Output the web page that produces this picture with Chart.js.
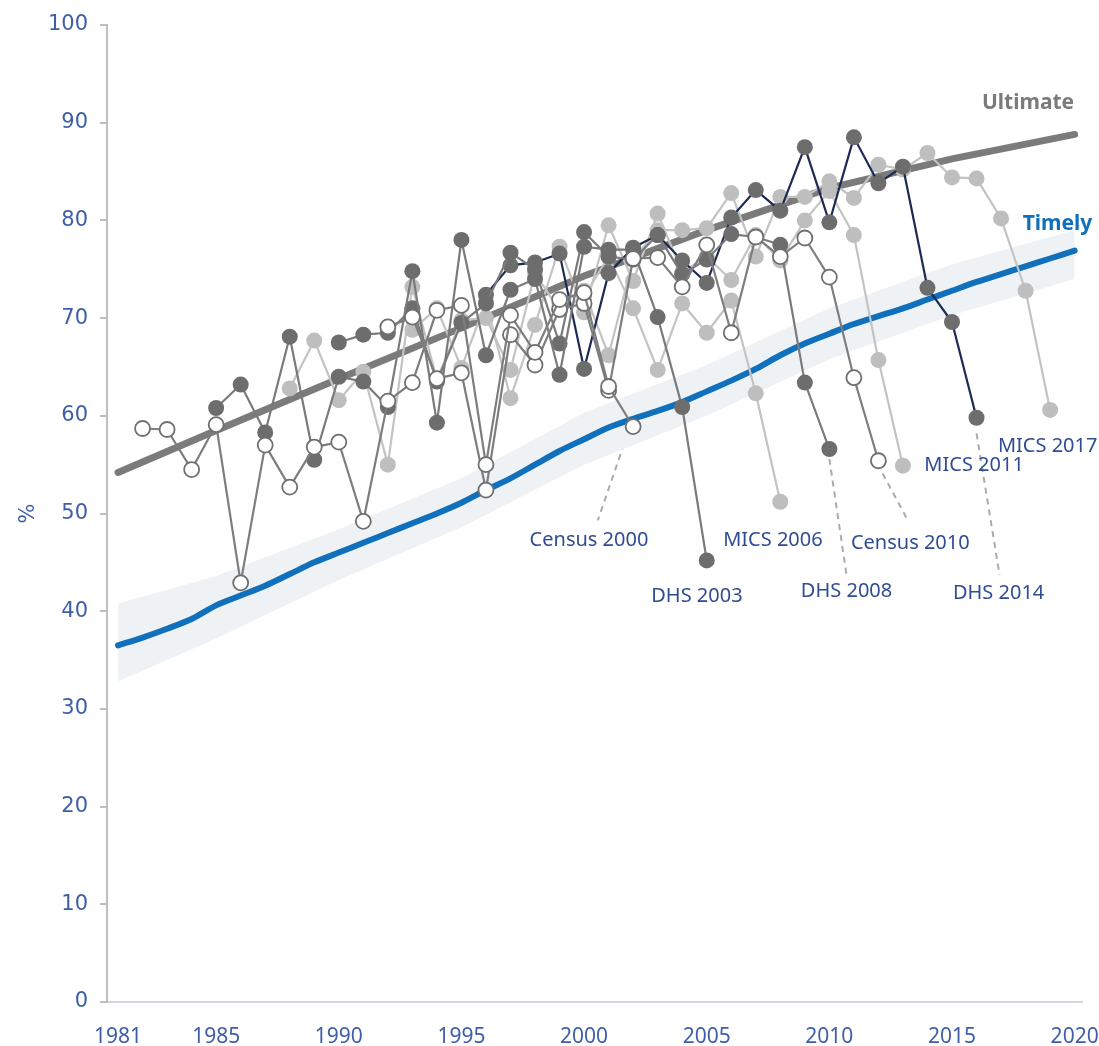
<!DOCTYPE html>
<html>
<head>
<meta charset="utf-8">
<script src="https://cdn.jsdelivr.net/npm/chart.js@4.4.1/dist/chart.umd.min.js"></script>
<style>
  body { margin: 0; background: #fff; }
  canvas { display: block; }
</style>
</head>
<body>
<canvas id="chart" width="1099" height="1046"></canvas>
<script>
// x axis tick labels
const xTicks = [1981, 1985, 1990, 1995, 2000, 2005, 2010, 2015, 2020];

// Timely estimate, one value per year 1981-2020
const timelyYears = [];
for (let yr = 1981; yr <= 2020; yr++) timelyYears.push(yr);
const timely = [36.5, 37.3, 38.2, 39.2, 40.6, 41.6, 42.6, 43.8, 45.0, 46.0,
                47.0, 48.0, 49.0, 50.0, 51.1, 52.4, 53.6, 55.0, 56.4, 57.6,
                58.8, 59.7, 60.5, 61.4, 62.5, 63.6, 64.8, 66.2, 67.4, 68.4,
                69.4, 70.2, 71.0, 71.9, 72.8, 73.7, 74.5, 75.3, 76.1, 76.9];

// uncertainty band around Timely
const bandYears = [1981, 1985, 1990, 1995, 2000, 2005, 2010, 2015, 2020];
const bandUpper = [40.8, 43.6, 48.4, 53.6, 60.3, 65.2, 71.0, 75.5, 79.0];
const bandLower = [32.8, 37.2, 43.2, 48.6, 55.0, 60.0, 65.8, 70.3, 74.0];

// Ultimate estimate
const ultimateYears = [1981, 1985, 1990, 1995, 2000, 2005, 2010, 2015, 2020];
const ultimate = [54.2, 58.5, 63.8, 69.0, 74.3, 79.0, 83.3, 86.3, 88.8];

// survey series (first year of each, then one value per year)
const census2000Start = 1982;
const census2000 = [58.7, 58.6, 54.5, 59.1, 42.9, 57.0, 52.7, 56.8, 57.3, 49.2, 61.5,
                    63.4, 70.8, 71.3, 55.0, 70.3, 66.5, 71.9, 72.6, 63.0, 58.9];
const dhs2003Start = 1985;
const dhs2003 = [60.8, 63.2, 58.3, 68.1, 55.5, 64.0, 63.5, 60.9, 74.8, 59.3, 78.0,
                 66.2, 72.9, 74.0, 64.2, 77.3, 77.0, 77.0, 70.1, 60.9, 45.2];
const mics2006Start = 1988;
const mics2006 = [62.8, 67.7, 61.6, 64.5, 55.0, 73.2, 63.7, 69.8, 70.0, 64.7, 74.6,
                  70.8, 72.2, 76.3, 71.0, 64.7, 71.5, 68.5, 71.8, 62.3, 51.2];
const dhs2008Start = 1990;
const dhs2008 = [67.5, 68.3, 68.5, 71.0, 63.5, 69.5, 71.5, 76.7, 75.0, 67.4, 78.8,
                 76.3, 76.0, 78.5, 74.5, 76.0, 78.6, 78.3, 77.5, 63.4, 56.6];
const census2010Start = 1992;
const census2010 = [69.1, 70.1, 63.8, 64.4, 52.4, 68.3, 65.2, 70.9, 71.5, 62.6, 76.1,
                    76.2, 73.2, 77.5, 68.5, 78.3, 76.3, 78.2, 74.2, 63.9, 55.4];
const mics2011Start = 1993;
const mics2011 = [68.8, 71.0, 64.9, 71.7, 61.8, 69.3, 77.3, 70.6, 79.5, 73.8, 80.7,
                  74.7, 76.3, 73.9, 78.5, 75.9, 80.0, 83.0, 78.5, 65.7, 54.9];
const dhs2014Start = 1996;
const dhs2014 = [72.4, 75.4, 75.7, 76.6, 64.8, 74.6, 77.2, 78.5, 75.9, 73.6, 80.3,
                 83.1, 81.0, 87.5, 79.8, 88.5, 83.8, 85.5, 73.1, 69.6, 59.8];
const mics2017Start = 1999;
const mics2017 = [71.5, 72.8, 66.2, 76.0, 79.0, 79.0, 79.2, 82.8, 76.3, 82.4, 82.4,
                  84.0, 82.3, 85.7, 85.2, 86.9, 84.4, 84.3, 80.2, 72.8, 60.6];

// label text and where it sits (in data units)
const surveyLabels = [
    { text: 'Census 2000', x: 2000.2, y: 47.3 },
    { text: 'DHS 2003', x: 2004.6, y: 41.5 },
    { text: 'MICS 2006', x: 2007.7, y: 47.3 },
    { text: 'DHS 2008', x: 2010.7, y: 42.0 },
    { text: 'Census 2010', x: 2013.3, y: 46.9 },
    { text: 'MICS 2011', x: 2015.9, y: 54.9 },
    { text: 'DHS 2014', x: 2016.9, y: 41.8 },
    { text: 'MICS 2017', x: 2018.9, y: 56.9 },
];
const leaders = [
    [[2001.78, 58.2], [2000.56, 49.3]],
    [[2010.0, 55.6], [2010.7, 43.7]],
    [[2012.17, 54.1], [2013.2, 49.3]],
    [[2016.0, 58.2], [2016.94, 43.7]],
];

const toPoints = (start, values) => values.map((v, i) => ({ x: start + i, y: v }));
const toXY = (xs, values) => values.map((v, i) => ({ x: xs[i], y: v }));

const DARK = '#6d6d6d';
const LIGHT = '#bebebe';
const OPEN_LINE = '#7d7d7d';
const NAVY = '#1d2a56';

function census(data) {
    return {
        data, order: 1, borderColor: OPEN_LINE, borderWidth: 2.2,
        pointRadius: 7.5, pointBackgroundColor: '#ffffff',
        pointBorderColor: '#6f6f6f', pointBorderWidth: 1.8,
    };
}
function dhs(data, lineColor) {
    return {
        data, order: 1, borderColor: lineColor, borderWidth: 2.2,
        pointRadius: 8, pointBackgroundColor: DARK, pointBorderColor: DARK, pointBorderWidth: 0,
    };
}
function mics(data) {
    return {
        data, order: 2, borderColor: '#c3c3c3', borderWidth: 2.2,
        pointRadius: 8, pointBackgroundColor: LIGHT, pointBorderColor: LIGHT, pointBorderWidth: 0,
    };
}

const textPlugin = {
    id: 'surveyText',
    beforeDatasetsDraw(chart) {
        const { ctx, scales: { x, y } } = chart;
        ctx.save();
        ctx.strokeStyle = '#ababab';
        ctx.lineWidth = 2;
        ctx.setLineDash([6, 5]);
        leaders.forEach(([a, b]) => {
            ctx.beginPath();
            ctx.moveTo(x.getPixelForValue(a[0]), y.getPixelForValue(a[1]));
            ctx.lineTo(x.getPixelForValue(b[0]), y.getPixelForValue(b[1]));
            ctx.stroke();
        });
        ctx.restore();
    },
    afterDatasetsDraw(chart) {
        const { ctx, scales: { x, y } } = chart;
        ctx.save();
        ctx.textAlign = 'center';
        ctx.textBaseline = 'middle';
        ctx.font = '20px "Noto Sans"';
        ctx.fillStyle = '#2f4c94';
        surveyLabels.forEach(l => {
            ctx.fillText(l.text, x.getPixelForValue(l.x), y.getPixelForValue(l.y));
        });
        ctx.font = 'bold 21px "Noto Sans"';
        ctx.fillStyle = '#1170bb';
        ctx.fillText('Timely', x.getPixelForValue(2019.3), y.getPixelForValue(79.6));
        ctx.fillStyle = '#7b7b7b';
        ctx.fillText('Ultimate', x.getPixelForValue(2018.1), y.getPixelForValue(92.0));
        ctx.restore();
    }
};

new Chart(document.getElementById('chart'), {
    type: 'line',
    data: {
        datasets: [
            census(toPoints(census2000Start, census2000)),
            census(toPoints(census2010Start, census2010)),
            dhs(toPoints(dhs2003Start, dhs2003), '#7a7a7a'),
            dhs(toPoints(dhs2008Start, dhs2008), '#7a7a7a'),
            dhs(toPoints(dhs2014Start, dhs2014), NAVY),
            mics(toPoints(mics2006Start, mics2006)),
            mics(toPoints(mics2011Start, mics2011)),
            mics(toPoints(mics2017Start, mics2017)),
            {
                data: toXY(ultimateYears, ultimate), order: 5,
                borderColor: '#7b7b7b', borderWidth: 7, pointRadius: 0, borderCapStyle: 'round',
            },
            {
                data: toXY(timelyYears, timely), order: 6, tension: 0.3,
                borderColor: '#1170bb', borderWidth: 6, pointRadius: 0, borderCapStyle: 'round',
            },
            {
                data: toXY(bandYears, bandLower), order: 9,
                borderWidth: 0, pointRadius: 0, borderColor: 'rgba(0,0,0,0)', fill: false,
            },
            {
                data: toXY(bandYears, bandUpper), order: 8,
                borderWidth: 0, pointRadius: 0, borderColor: 'rgba(0,0,0,0)',
                fill: { target: 10 }, backgroundColor: '#eff2f4',
            },
        ]
    },
    options: {
        responsive: false,
        animation: false,
        devicePixelRatio: 1,
        layout: { padding: { top: 25, right: 17, left: 0, bottom: 0 } },
        plugins: {
            legend: { display: false },
            tooltip: { enabled: false },
        },
        scales: {
            x: {
                type: 'linear',
                min: 1980.55,
                max: 2020.3,
                afterBuildTicks: scale => { scale.ticks = xTicks.map(v => ({ value: v })); },
                afterFit: scale => {
                    scale.height = 44;
                    scale.paddingLeft = 0;
                    scale.paddingRight = 0;
                },
                ticks: {
                    color: '#3f5eaa',
                    font: { family: 'Noto Sans', size: 21 },
                    padding: 14,
                    maxRotation: 0,
                    autoSkip: false,
                    callback: v => String(v),
                },
                grid: { display: false },
                border: { color: '#d3d8e2', width: 2 },
            },
            y: {
                min: 0,
                max: 100,
                afterFit: scale => {
                    scale.width = 107;
                    scale.paddingTop = 0;
                    scale.paddingBottom = 0;
                },
                ticks: {
                    stepSize: 10,
                    color: '#3f5eaa',
                    font: { family: 'DejaVu Sans', size: 21 },
                    padding: 12,
                },
                grid: { drawOnChartArea: false, tickLength: 7, color: '#bfbfbf', lineWidth: 2 },
                border: { color: '#bfbfbf', width: 2 },
                title: {
                    display: true,
                    text: '%',
                    color: '#3f5eaa',
                    font: { family: 'DejaVu Sans', size: 21 },
                    padding: { top: 16, bottom: 0 },
                },
            }
        }
    },
    plugins: [textPlugin]
});
</script>
</body>
</html>
